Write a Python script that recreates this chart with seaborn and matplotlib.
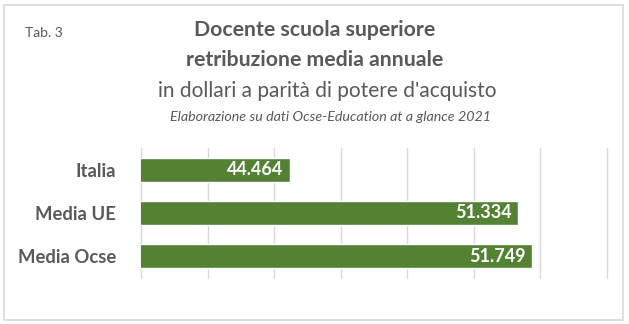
import matplotlib
matplotlib.use("Agg")
import matplotlib.pyplot as plt
import seaborn as sns
import pandas as pd
from matplotlib.patches import Rectangle

categories = ["Italia", "Media UE", "Media Ocse"]
values = [44464, 51334, 51749]
value_labels = ["44.464", "51.334", "51.749"]

sns.set_theme(style="white")
plt.rcParams['font.family'] = ['Lato', 'DejaVu Sans']

df = pd.DataFrame({"cat": categories, "val": values})

fig = plt.figure(figsize=(6.29, 3.24), dpi=100)
ax = fig.add_axes([141/629, 1-278/324, (607-141)/629, (278-148)/324])

sns.barplot(data=df, y="cat", x="val", orient="h", color="#548235",
            saturation=1, width=0.55, ax=ax)
ax.set_xlim(40000, 54000)
ax.set_xticks(range(40000, 54001, 2000))
ax.xaxis.grid(True, color="#d9d9d9", linewidth=1)
for gl in ax.xaxis.get_gridlines():
    gl.set_clip_on(False)
ax.set_axisbelow(True)
ax.tick_params(axis="x", labelbottom=False, length=0)
ax.tick_params(axis="y", length=0, pad=18, labelsize=13.3, labelcolor="#595959")
for lab in ax.get_yticklabels():
    lab.set_fontweight("bold")
ax.set_xlabel("")
ax.set_ylabel("")
for s in ax.spines.values():
    s.set_visible(False)

for i, (v, t) in enumerate(zip(values, value_labels)):
    ax.text(v - 180, i, t, ha="right", va="center", color="white",
            fontsize=13, fontweight="bold")

# frame
fig.patches.append(Rectangle((4/629, 4/324), 619/629, 315/324, transform=fig.transFigure,
                             fill=False, edgecolor="#d9d9d9", linewidth=1.2))

fig.text(25/629, 1-33/324, "Tab. 3", fontsize=10, color="#595959", va="center")
fig.text(315/629, 1-30/324, "Docente scuola superiore", fontsize=15.3, fontweight="bold",
         color="#595959", ha="center", va="center")
fig.text(315/629, 1-60/324, "retribuzione media annuale", fontsize=15.3, fontweight="bold",
         color="#595959", ha="center", va="center")
fig.text(327/629, 1-91/324, "in dollari a parità di potere d'acquisto", fontsize=15,
         color="#595959", ha="center", va="center")
fig.text(330/629, 1-117/324, "Elaborazione su dati Ocse-Education at a glance 2021", fontsize=10.3,
         style="italic", color="#595959", ha="center", va="center")

fig.savefig("out.png", dpi=100)
